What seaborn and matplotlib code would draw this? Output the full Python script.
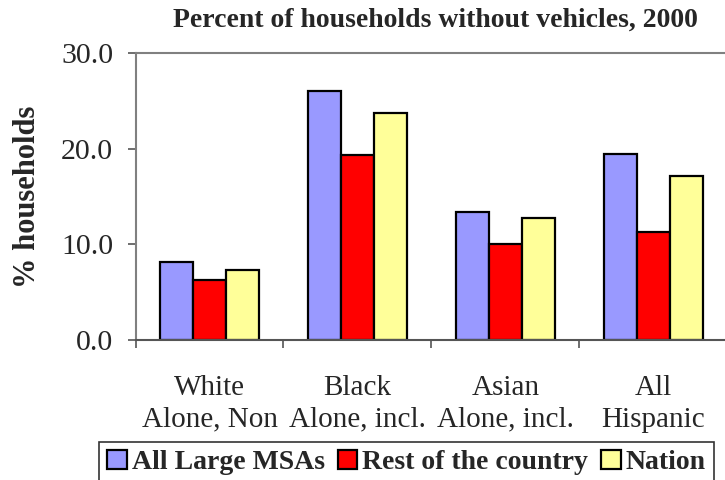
import matplotlib
matplotlib.use("Agg")
import matplotlib.pyplot as plt
import seaborn as sns
import pandas as pd

categories = ["White\nAlone, Non", "Black\nAlone, incl.", "Asian\nAlone, incl.", "All\nHispanic"]
series_names = ["All Large MSAs", "Rest of the country", "Nation"]
all_large_msas = [8.2, 26.0, 13.4, 19.5]
rest_of_country = [6.3, 19.4, 10.0, 11.3]
nation = [7.3, 23.8, 12.8, 17.2]
yticks = [0, 10, 20, 30]
colors = ["#9999FF", "#FF0000", "#FFFF99"]

rows = []
for name, vals in zip(series_names, [all_large_msas, rest_of_country, nation]):
    for c, v in zip(categories, vals):
        rows.append({"category": c, "series": name, "value": v})
df = pd.DataFrame(rows)

sns.set_style("white")
plt.rcParams["font.family"] = ["Liberation Serif", "DejaVu Serif"]

fig = plt.figure(figsize=(7.25, 4.8), dpi=100)
ax = fig.add_axes([0.187, 0.292, 0.816, 0.597])

sns.barplot(data=df, x="category", y="value", hue="series", order=categories,
            hue_order=series_names, palette=colors, width=0.67, saturation=1,
            edgecolor="black", linewidth=1.6, ax=ax, legend=True, errorbar=None)

ax.set_ylim(0, 30)
ax.set_xlim(-0.5, 3.5)
ax.set_yticks(yticks)
ax.set_yticklabels([f"{t:.1f}" for t in yticks], fontsize=21.5)
ax.set_xticks(range(len(categories)))
ax.set_xticklabels(categories, fontsize=21, linespacing=1.3)
ax.tick_params(axis="x", which="major", length=0, pad=25)
ax.set_xticks([-0.5, 0.5, 1.5, 2.5], minor=True)
ax.tick_params(axis="x", which="minor", length=6, width=1.2, color="#555555", direction="out", bottom=True)
ax.tick_params(axis="y", length=6, width=1.2, color="#555555", direction="out", left=True, pad=10)
ax.set_xlabel("")
ax.set_ylabel("% households", fontsize=22, fontweight="bold", labelpad=14)

for side in ["top", "right", "left", "bottom"]:
    ax.spines[side].set_visible(True)
    ax.spines[side].set_color("#808080")
    ax.spines[side].set_linewidth(1.5)
ax.spines["bottom"].set_color("#555555")

fig.text(0.601, 0.957, "Percent of households without vehicles, 2000",
         ha="center", va="center", fontsize=20, fontweight="bold")

handles, labels = ax.get_legend_handles_labels()
ax.get_legend().remove()
leg = fig.legend(handles, labels, loc="upper left", bbox_to_anchor=(0.1366, 0.079),
                 ncol=3, frameon=True, fancybox=False, edgecolor="black",
                 prop={"size": 20, "weight": "bold"}, handlelength=0.7, handleheight=0.65,
                 handletextpad=0.18, columnspacing=0.47, borderpad=0.3, borderaxespad=0.0)
leg.get_frame().set_linewidth(1.2)

fig.savefig("out.png", dpi=100)
